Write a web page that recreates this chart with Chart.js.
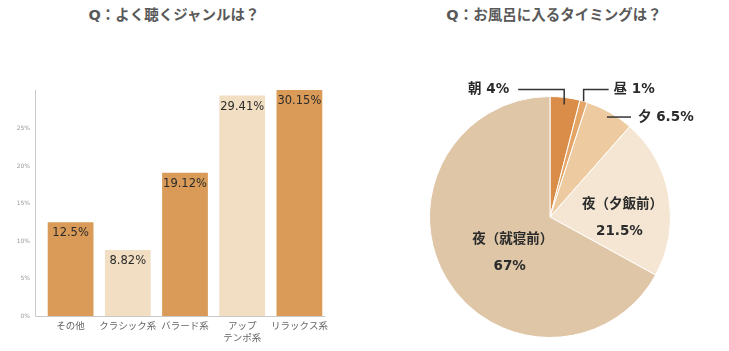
<!DOCTYPE html>
<html>
<head>
<meta charset="utf-8">
<script src="https://cdn.jsdelivr.net/npm/chart.js@4"></script>
<style>
  html, body { margin:0; padding:0; background:#fff; }
  body { width:729px; height:351px; position:relative; overflow:hidden; }
  .title { position:absolute; top:3px; font:bold 14.5px "DejaVu Sans","Noto Sans CJK JP",sans-serif; color:#595959; text-align:center; white-space:nowrap; }
  #title1 { left:0; width:348px; }
  #title2 { left:400px; width:308px; }
  #barChart { position:absolute; left:0; top:60px; }
  #pieChart { position:absolute; left:400px; top:0; }
</style>
</head>
<body>
<div class="title" id="title1">Q：よく聴くジャンルは？</div>
<div class="title" id="title2">Q：お風呂に入るタイミングは？</div>
<canvas id="barChart" width="360" height="291"></canvas>
<canvas id="pieChart" width="329" height="351"></canvas>
<script>
// ジャンル (bar)
const genreLabels = ['その他', 'クラシック系', 'バラード系', ['アップ', 'テンポ系'], 'リラックス系'];
const genreValues = [12.5, 8.82, 19.12, 29.41, 30.15];
const genreTicks = [0, 5, 10, 15, 20, 25];

// お風呂タイミング (pie)
const bathLabels = ['朝', '昼', '夕', '夜（夕飯前）', '夜（就寝前）'];
const bathValues = [4, 1, 6.5, 21.5, 67];

const DARK = '#D99B57';
const LIGHT = '#F2DEC3';
const barColors = [DARK, LIGHT, DARK, LIGHT, DARK];
const pieColors = ['#DA8D48', '#E4A566', '#EDCAA0', '#F4E6D3', '#DEC6A7'];

//-----BAR
const axisLines = {
  id: 'axisLines',
  afterDraw(chart){
    const a = chart.chartArea, c = chart.ctx;
    c.save();
    c.strokeStyle = '#c8c8c8';
    c.lineWidth = 1;
    c.beginPath();
    c.moveTo(35.5, a.top);
    c.lineTo(35.5, a.bottom + 0.5);
    c.lineTo(a.right - 3, a.bottom + 0.5);
    c.stroke();
    c.restore();
  }
};

const barValueLabels = {
  id: 'barValueLabels',
  afterDatasetsDraw(chart){
    const c = chart.ctx;
    const meta = chart.getDatasetMeta(0);
    c.save();
    c.font = '11.5px "DejaVu Sans", sans-serif';
    c.fillStyle = '#2b2b2b';
    c.textAlign = 'center';
    c.textBaseline = 'middle';
    meta.data.forEach((bar, i) => {
      c.fillText(genreValues[i] + '%', bar.x, bar.y + 11);
    });
    c.restore();
  }
};

new Chart(document.getElementById('barChart'), {
  type: 'bar',
  data: {
    labels: genreLabels,
    datasets: [{
      data: genreValues,
      backgroundColor: barColors,
      borderWidth: 0,
      categoryPercentage: 1,
      barPercentage: 0.8
    }]
  },
  options: {
    responsive: false,
    animation: false,
    layout: { padding: { top: 30, right: 32, left: 0, bottom: 0 } },
    plugins: { legend: { display: false }, tooltip: { enabled: false } },
    scales: {
      x: {
        grid: { display: false, drawTicks: false },
        border: { display: false },
        ticks: {
          color: '#666666',
          font: { size: 9.5, family: '"Noto Sans CJK JP", sans-serif' },
          padding: 4,
          maxRotation: 0,
          autoSkip: false
        },
        afterFit(scale){ scale.height = 35; }
      },
      y: {
        min: 0,
        max: 30.15,
        grid: { display: false, drawTicks: false },
        border: { display: false },
        afterBuildTicks(scale){ scale.ticks = genreTicks.map(v => ({ value: v })); },
        ticks: {
          color: '#9a9a9a',
          font: { size: 6, family: '"DejaVu Sans", sans-serif' },
          padding: 12,
          callback: v => v + '%'
        },
        afterFit(scale){ scale.width = 42; }
      }
    }
  },
  plugins: [axisLines, barValueLabels]
});

//-----PIE
const leaderStyle = [
  { rf: 0.94, mode: 'upLeft', len: 46 },
  { rf: 1.0, mode: 'upRight', len: 25 },
  { rf: 0.955, mode: 'right', len: 24 },
  { rf: 0.61, mode: 'inside' },
  { rf: 0.36, mode: 'inside' }
];

const pieLabels = {
  id: 'pieLabels',
  afterDatasetsDraw(chart){
    const c = chart.ctx;
    const meta = chart.getDatasetMeta(0);
    c.save();
    c.font = 'bold 13.5px "DejaVu Sans", "Noto Sans CJK JP", sans-serif';
    c.fillStyle = '#2b2b2b';
    c.strokeStyle = '#333';
    c.lineWidth = 1.5;
    c.textBaseline = 'middle';
    meta.data.forEach((arc, i) => {
      const p = arc.getProps(['x', 'y', 'startAngle', 'endAngle', 'outerRadius']);
      const s = leaderStyle[i];
      const mid = (p.startAngle + p.endAngle) / 2;
      const ax = p.x + Math.cos(mid) * p.outerRadius * s.rf;
      const ay = p.y + Math.sin(mid) * p.outerRadius * s.rf;
      const txt = bathLabels[i] + ' ' + bathValues[i] + '%';
      if (s.mode === 'inside') {
        c.textAlign = 'center';
        c.fillText(bathLabels[i], ax, ay);
        c.fillText(bathValues[i] + '%', ax - 3, ay + 27);
        return;
      }
      const topY = p.y - p.outerRadius - 7;
      c.beginPath();
      if (s.mode === 'upLeft') {
        c.moveTo(ax, ay); c.lineTo(ax, topY); c.lineTo(ax - s.len, topY);
        c.stroke();
        c.textAlign = 'right';
        c.fillText(txt, ax - s.len - 9, topY);
      } else if (s.mode === 'upRight') {
        c.moveTo(ax, ay); c.lineTo(ax, topY); c.lineTo(ax + s.len, topY);
        c.stroke();
        c.textAlign = 'left';
        c.fillText(txt, ax + s.len + 5, topY);
      } else {
        c.moveTo(ax, ay); c.lineTo(ax + s.len, ay);
        c.stroke();
        c.textAlign = 'left';
        c.fillText(txt, ax + s.len + 7, ay);
      }
    });
    c.restore();
  }
};

new Chart(document.getElementById('pieChart'), {
  type: 'pie',
  data: {
    labels: bathLabels,
    datasets: [{
      data: bathValues,
      backgroundColor: pieColors,
      borderColor: '#ffffff',
      borderWidth: 1
    }]
  },
  options: {
    responsive: false,
    animation: false,
    layout: { padding: { top: 96, bottom: 13, left: 29, right: 58 } },
    plugins: { legend: { display: false }, tooltip: { enabled: false } }
  },
  plugins: [pieLabels]
});
</script>
</body>
</html>
